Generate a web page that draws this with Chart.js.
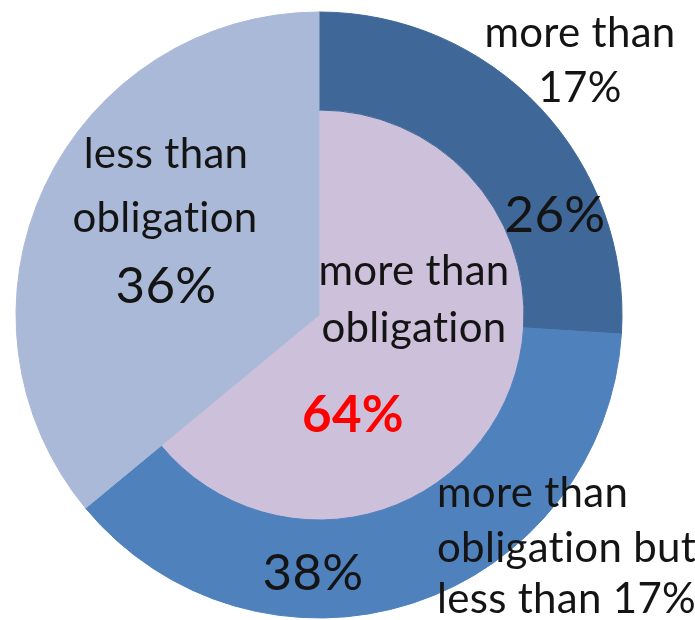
<!DOCTYPE html>
<html>
<head>
<meta charset="utf-8">
<script src="https://cdn.jsdelivr.net/npm/chart.js@4.4.0/dist/chart.umd.min.js"></script>
<style>
    html, body { margin: 0; padding: 0; background: #ffffff; }
    #wrap { width: 695px; height: 620px; }
</style>
</head>
<body>
<div id="wrap"><canvas id="pieChart" width="695" height="620"></canvas></div>
<script>
        // Outer ring: the three groups
        const outerLabels = ['more than 17%', 'more than obligation but less than 17%', 'less than obligation'];
        const outerValues = [26, 38, 36];
        const outerColors = ['#3F6899', '#4F81BD', '#AAB9D7'];

        // Inner pie: more than / less than obligation
        const innerLabels = ['more than obligation', 'less than obligation'];
        const innerValues = [64, 36];
        const innerColors = ['#CCC0DA', '#AAB9D7'];

        const FONT = 'Lato, "Open Sans", sans-serif';
        const TEXT = '#141414';

        // Text labels drawn on top of the pie
        const labelPlugin = {
            id: 'pieLabels',
            afterDatasetsDraw(chart) {
                const ctx = chart.ctx;
                const small = `42px ${FONT}`;
                const big = `51px ${FONT}`;

                const put = (text, x, y, font, color, align) => {
                    ctx.font = font;
                    ctx.fillStyle = color || TEXT;
                    ctx.textAlign = align || 'center';
                    ctx.textBaseline = 'alphabetic';
                    ctx.fillText(text, x, y);
                };

                ctx.save();
                // a tiny spacing keeps the "ti" ligature off
                if ('letterSpacing' in ctx) ctx.letterSpacing = '0.3px';

                // more than 17%
                put('more than', 580, 47, small);
                put('17%', 580, 102, small);
                put(outerValues[0] + '%', 555, 232, big);

                // less than obligation
                put('less than', 166, 168, small);
                put('obligation', 165, 232, small);
                put(outerValues[2] + '%', 166, 303, big);

                // more than obligation (inner)
                put('more than', 414, 285, small);
                put('obligation', 414, 342, small);
                put(innerValues[0] + '%', 353, 432, `bold 51px ${FONT}`, '#FF0000');

                // more than obligation but less than 17%
                put(outerValues[1] + '%', 313, 590, big);
                put('more than', 437, 507, small, TEXT, 'left');
                put('obligation but', 437, 562, small, TEXT, 'left');
                put('less than 17%', 437, 613, small, TEXT, 'left');
                ctx.restore();
            }
        };

        const ctx = document.getElementById('pieChart').getContext('2d');

        const pieChart = new Chart(ctx, {
            type: 'doughnut',
            data: {
                labels: outerLabels,
                datasets: [{
                    label: 'outer',
                    data: outerValues,
                    backgroundColor: outerColors,
                    borderColor: outerColors,
                    borderWidth: 1,
                    weight: 98
                }, {
                    label: 'inner',
                    data: innerValues,
                    backgroundColor: innerColors,
                    borderColor: innerColors,
                    borderWidth: 1,
                    weight: 205
                }]
            },
            options: {
                responsive: false,
                animation: false,
                cutout: 0,
                radius: 303,
                layout: {
                    padding: { top: 10, bottom: 0, left: 0, right: 57 }
                },
                plugins: {
                    legend: { display: false },
                    tooltip: { enabled: false }
                }
            },
            plugins: [labelPlugin]
        });
</script>
</body>
</html>
